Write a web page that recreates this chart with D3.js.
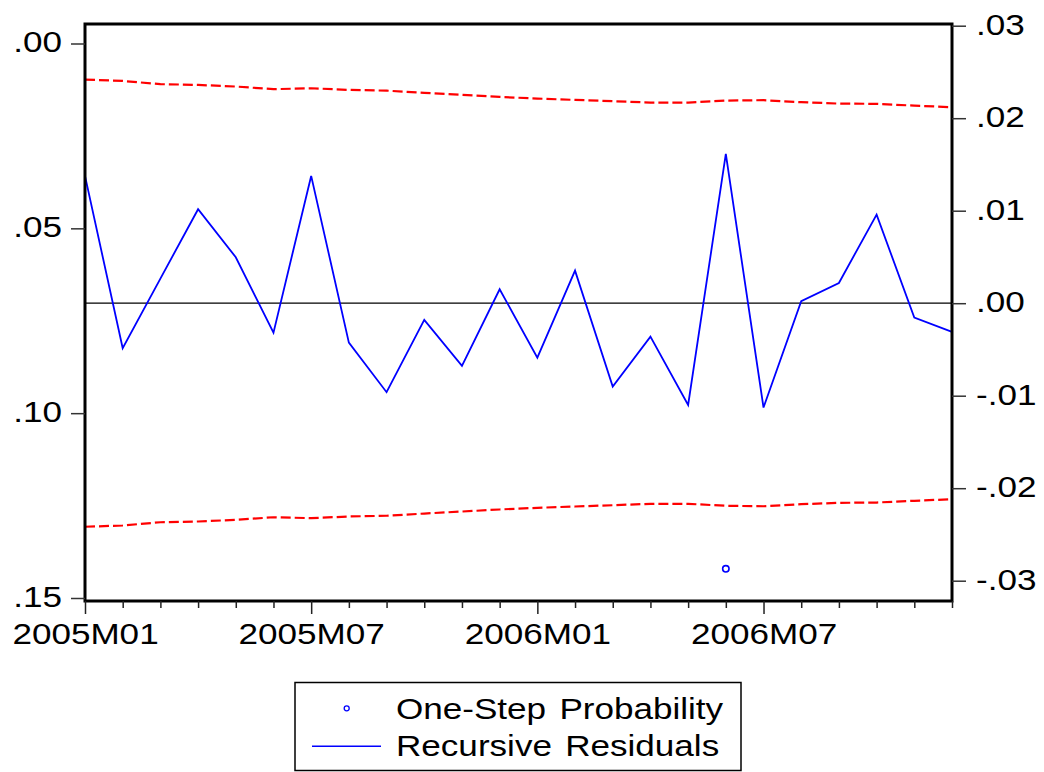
<!DOCTYPE html>
<html>
<head>
<meta charset="utf-8">
<script src="https://cdn.jsdelivr.net/npm/d3@7"></script>
<style>
	body { margin: 0; background: #fff; }
	text { font-family: "Liberation Sans", Arial, sans-serif; fill: #000; }
</style>
</head>
<body>
<div id="chart"></div>
<script>
// one-step forecast test, monthly 2005M01 - 2006M12
///

const months = ['2005M01','2005M02','2005M03','2005M04','2005M05','2005M06','2005M07','2005M08','2005M09','2005M10','2005M11','2005M12',
	'2006M01','2006M02','2006M03','2006M04','2006M05','2006M06','2006M07','2006M08','2006M09','2006M10','2006M11','2006M12'];

const residuals = [0.01376, -0.00486, 0.00266, 0.01016, 0.00497, -0.00318, 0.01376, -0.00426, -0.00962, -0.0018, -0.00678, 0.00151,
	-0.00588, 0.00352, -0.00901, -0.00361, -0.011, 0.01614, -0.01128, 0.00022, 0.00219, 0.00958, -0.00156, -0.0031];

// +/- 2 S.E. band
const band = [0.02417, 0.02403, 0.02368, 0.0236, 0.02342, 0.02314, 0.02324, 0.02306, 0.02298, 0.02274, 0.02252, 0.0223,
	0.02212, 0.02198, 0.02184, 0.02169, 0.02169, 0.0219, 0.02195, 0.02173, 0.02158, 0.02155, 0.02136, 0.02119];

// only probabilities under .15 are drawn
const probability = [null, null, null, null, null, null, null, null, null, null, null, null,
	null, null, null, null, null, 0.1421, null, null, null, null, null, null];

const leftTicks = [0, 0.05, 0.10, 0.15];
const rightTicks = [-0.03, -0.02, -0.01, 0, 0.01, 0.02, 0.03];
const majorMonths = ['2005M01','2005M07','2006M01','2006M07'];

const w = 1044, h = 772;
const L = 85, R = 952, T = 24, B = 601;
const sx = 1.17; // text is a bit wider than normal

let svg = d3.select('#chart').append('svg')
	.attr('width', w)
	.attr('height', h);

const x = d3.scaleLinear().domain([0, months.length - 1]).range([L, R]);
const yLeft = d3.scaleLinear().domain([0, 0.15]).range([43.5, 598]);
const yRight = d3.scaleLinear().domain([-0.03, 0.03]).range([580.7, 25.7]);

// ".05", "-.01" style labels
const locale = d3.formatLocale({ decimal: '.', thousands: ',', grouping: [3], currency: ['', ''], minus: '-' });
const fmt = d => locale.format('.2f')(d).replace(/^(-?)0\./, '$1.');

// zero line
svg.append('line')
	.attr('x1', L).attr('x2', R)
	.attr('y1', yRight(0)).attr('y2', yRight(0))
	.attr('stroke', '#000').attr('stroke-width', 1.2);

// bands
const line = d3.line().x((d, i) => x(i)).y(d => yRight(d));

svg.append('path')
	.datum(band)
	.attr('d', line)
	.attr('fill', 'none').attr('stroke', '#ff0000').attr('stroke-width', 2.2)
	.attr('stroke-dasharray', '10,4');

svg.append('path')
	.datum(band.map(v => -v))
	.attr('d', line)
	.attr('fill', 'none').attr('stroke', '#ff0000').attr('stroke-width', 2.2)
	.attr('stroke-dasharray', '10,4');

// recursive residuals
svg.append('path')
	.datum(residuals)
	.attr('d', line)
	.attr('fill', 'none').attr('stroke', '#0000ff').attr('stroke-width', 1.8)
	.attr('stroke-linejoin', 'miter');

// one-step probability
svg.append('g').selectAll('circle')
	.data(probability.map((p, i) => ({ p: p, i: i })).filter(d => d.p != null))
	.enter()
	.append('circle')
	.attr('cx', d => x(d.i))
	.attr('cy', d => yLeft(d.p))
	.attr('r', 3.2)
	.attr('fill', 'none').attr('stroke', '#0000ff').attr('stroke-width', 1.6);

// frame
svg.append('rect')
	.attr('x', L).attr('y', T)
	.attr('width', R - L).attr('height', B - T)
	.attr('fill', 'none').attr('stroke', '#000').attr('stroke-width', 3);

// left axis
let gl = svg.append('g')
	.attr('transform', 'translate(' + L + ',0)')
	.call(d3.axisLeft(yLeft).tickValues(leftTicks).tickFormat(fmt).tickSize(14).tickSizeOuter(0));
gl.select('.domain').remove();
gl.selectAll('.tick line').attr('stroke', '#333').attr('stroke-width', 1.5);
gl.selectAll('.tick text')
	.attr('x', null).attr('dy', '0.28em')
	.attr('transform', 'translate(-23,0) scale(' + sx + ',1)')
	.attr('text-anchor', 'end')
	.style('font-size', '30px').style('font-family', null);

// right axis
let gr = svg.append('g')
	.attr('transform', 'translate(' + R + ',0)')
	.call(d3.axisRight(yRight).tickValues(rightTicks).tickFormat(fmt).tickSize(14).tickSizeOuter(0));
gr.select('.domain').remove();
gr.selectAll('.tick line').attr('stroke', '#333').attr('stroke-width', 1.5);
gr.selectAll('.tick text')
	.attr('x', null).attr('dy', '0.28em')
	.attr('transform', 'translate(24,0) scale(' + sx + ',1)')
	.attr('text-anchor', 'start')
	.style('font-size', '30px').style('font-family', null);

// bottom axis: minor tick each month, longer tick with label twice a year
let gb = svg.append('g')
	.attr('transform', 'translate(0,' + B + ')')
	.call(d3.axisBottom(x).tickValues(d3.range(months.length))
		.tickFormat(i => majorMonths.includes(months[i]) ? months[i] : '')
		.tickSize(7).tickSizeOuter(0));
gb.select('.domain').remove();
gb.selectAll('.tick line')
	.attr('y2', i => majorMonths.includes(months[i]) ? 13 : 7)
	.attr('stroke', '#222').attr('stroke-width', 1.5);
gb.selectAll('.tick text')
	.attr('y', null).attr('dy', null)
	.attr('transform', 'translate(0,43) scale(' + sx + ',1)')
	.style('font-size', '30px').style('font-family', null);

// legend
let lg = svg.append('g').attr('class', 'legend');
lg.append('rect')
	.attr('x', 295).attr('y', 682.5)
	.attr('width', 446).attr('height', 88)
	.attr('fill', '#fff').attr('stroke', '#000').attr('stroke-width', 1.5);

lg.append('circle')
	.attr('cx', 346.7).attr('cy', 708.3).attr('r', 2.5)
	.attr('fill', 'none').attr('stroke', '#0000ff').attr('stroke-width', 1.3);
lg.append('line')
	.attr('x1', 312).attr('x2', 381).attr('y1', 746.3).attr('y2', 746.3)
	.attr('stroke', '#0000ff').attr('stroke-width', 1.6);

const legendItems = ['One-Step Probability', 'Recursive Residuals'];
lg.selectAll('text.item')
	.data(legendItems)
	.enter()
	.append('text')
	.attr('class', 'item')
	.attr('transform', (d, i) => 'translate(396,' + (i == 0 ? 718.5 : 756) + ') scale(' + sx + ',1)')
	.style('font-size', '30px')
	.style('word-spacing', '3px')
	.text(d => d);
</script>
</body>
</html>
